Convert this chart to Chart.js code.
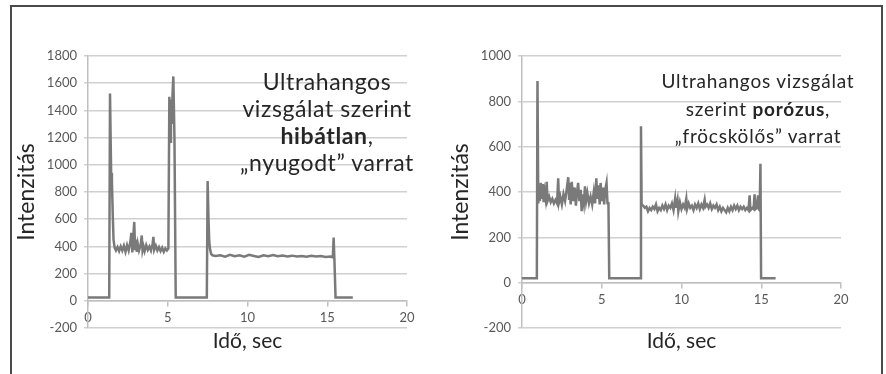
<!DOCTYPE html>
<html>
<head>
<meta charset="utf-8">
<script src="https://cdn.jsdelivr.net/npm/chart.js@4/dist/chart.umd.min.js"></script>
<style>
  html, body { margin: 0; padding: 0; background: #fff; }
  body { width: 886px; height: 374px; position: relative; overflow: hidden; font-family: Lato, sans-serif; }
  .frame { position: absolute; left: 10px; top: 5px; width: 869px; height: 380px;
           border-top: 2px solid #4a4a4a; border-left: 2px solid #4a4a4a; border-right: 2px solid #4a4a4a; }
  .box { position: absolute; top: 8px; width: 430px; height: 352px; }
  .note { position: absolute; text-align: center; color: #262626; white-space: nowrap; }
</style>
</head>
<body>
<div class="frame"></div>
<div class="box" style="left:12px"><canvas id="chart_flawless"></canvas></div>
<div class="box" style="left:446px"><canvas id="chart_porous"></canvas></div>
<div class="note" style="left:217px; top:68px; width:220px; font-size:23px; letter-spacing:0.6px; line-height:27px">Ultrahangos<br>vizsgálat szerint<br><b>hibátlan</b>,<br>„nyugodt” varrat</div>
<div class="note" style="left:650px; top:67px; width:216px; font-size:19px; letter-spacing:0.8px; line-height:27.5px">Ultrahangos vizsgálat<br>szerint <b>porózus</b>,<br>„fröcskölős” varrat</div>
<script>
// time axis (sec) and intensity readings
var leftTime = [0, 1.33, 1.38, 1.45, 1.5, 1.55, 1.6, 1.67, 1.75, 1.85, 1.95, 2.05, 2.15, 2.25, 2.35, 2.45, 2.55, 2.65, 2.72, 2.78,
    2.84, 2.9, 2.95, 3.0, 3.06, 3.12, 3.2, 3.3, 3.37, 3.42, 3.48, 3.55, 3.65, 3.75, 3.85, 3.95, 4.05, 4.1, 4.15, 4.25,
    4.35, 4.45, 4.55, 4.65, 4.75, 4.85, 4.95, 5.04, 5.1, 5.15, 5.2, 5.25, 5.3, 5.35, 5.42, 5.5, 7.45, 7.5, 7.55, 7.6,
    7.65, 7.72, 7.8, 8.0, 8.3, 8.6, 8.9, 9.2, 9.5, 9.8, 10.1, 10.4, 10.7, 11.0, 11.3, 11.6, 11.9, 12.2, 12.5, 12.8,
    13.1, 13.4, 13.7, 14.0, 14.3, 14.6, 14.9, 15.2, 15.35, 15.4, 15.45, 15.52, 16.6];
var leftIntensity = [25, 25, 1525, 940, 880, 640, 450, 390, 370, 395, 365, 400, 370, 405, 360, 410, 370, 430, 500, 355,
    470, 580, 380, 450, 360, 420, 370, 410, 480, 370, 400, 365, 410, 375, 400, 370, 420, 470, 375, 405,
    370, 395, 365, 390, 360, 385, 370, 385, 1500, 1170, 1480, 1300, 1520, 1650, 1200, 25, 25, 880, 620, 440,
    380, 345, 335, 330, 335, 325, 338, 328, 335, 325, 338, 330, 322, 335, 328, 336, 327, 333, 326, 332,
    325, 330, 324, 331, 325, 330, 322, 325, 320, 465, 300, 25, 25];

var rightTime = [0, 0.93, 0.97, 1.02, 1.07, 1.12, 1.18, 1.24, 1.3, 1.36, 1.42, 1.48, 1.55, 1.6, 1.7, 1.8, 1.9, 2.0, 2.1, 2.2,
    2.27, 2.32, 2.4, 2.5, 2.6, 2.7, 2.8, 2.9, 2.95, 3.0, 3.05, 3.12, 3.2, 3.3, 3.38, 3.45, 3.52, 3.6, 3.68, 3.74,
    3.8, 3.88, 3.95, 4.02, 4.1, 4.2, 4.3, 4.4, 4.5, 4.58, 4.66, 4.72, 4.8, 4.87, 4.93, 5.0, 5.08, 5.15, 5.22, 5.3,
    5.36, 5.42, 5.47, 7.42, 7.46, 7.5, 7.6, 7.7, 7.8, 7.9, 8.0, 8.1, 8.2, 8.3, 8.4, 8.5, 8.6, 8.7, 8.8, 8.9,
    9.0, 9.1, 9.2, 9.3, 9.4, 9.5, 9.6, 9.65, 9.75, 9.8, 9.9, 10.0, 10.1, 10.2, 10.3, 10.35, 10.45, 10.55, 10.65, 10.75,
    10.85, 10.95, 11.05, 11.15, 11.25, 11.35, 11.45, 11.5, 11.6, 11.7, 11.8, 11.9, 12.0, 12.1, 12.2, 12.3, 12.4, 12.5, 12.6, 12.7,
    12.8, 12.9, 13.0, 13.1, 13.2, 13.3, 13.4, 13.5, 13.6, 13.7, 13.8, 13.9, 14.0, 14.1, 14.2, 14.27, 14.32, 14.45, 14.52, 14.58,
    14.64, 14.72, 14.8, 14.85, 14.9, 14.95, 14.99, 15.9];
var rightIntensity = [20, 20, 890, 350, 430, 360, 440, 370, 435, 355, 400, 370, 445, 360, 380, 355, 370, 350, 365, 350,
    460, 355, 380, 345, 390, 360, 410, 465, 370, 440, 345, 445, 360, 420, 340, 400, 440, 360, 410, 315,
    390, 350, 425, 360, 395, 350, 380, 345, 400, 350, 460, 370, 430, 345, 440, 360, 420, 345, 410, 440,
    350, 350, 20, 20, 690, 345, 340, 330, 335, 315, 330, 320, 335, 325, 345, 315, 330, 320, 340, 325,
    345, 320, 340, 330, 350, 320, 370, 330, 365, 315, 355, 325, 345, 330, 370, 325, 350, 330, 340, 320,
    345, 330, 350, 325, 345, 330, 365, 335, 345, 330, 350, 325, 340, 330, 345, 320, 335, 315, 330, 320,
    310, 330, 315, 335, 320, 340, 325, 340, 320, 335, 325, 335, 320, 330, 320, 385, 320, 330, 325, 390,
    325, 330, 385, 325, 320, 525, 20, 20];

var timeTicks = [0, 20, 5];       // min, max, step
var leftRange = [-200, 1800, 200];
var rightRange = [-200, 1000, 200];

var xTitle = 'Idő, sec';
var yTitle = 'Intenzitás';

var ProfileWeldChart = function (canvasId, times, values, range) {
    var tickColor = '#595959';
    var axisColor = '#bfbfbf';
    var plain = function (v) { return String(v); };   // no thousands separator
    var points = times.map(function (t, i) { return {x: t, y: values[i]}; });

    return new Chart(document.getElementById(canvasId), {
        type: 'line',
        data: {
            datasets: [{
                data: points,
                borderColor: '#7a7a7a',
                borderWidth: 2.5,
                pointRadius: 0,
                tension: 0,
                fill: false,
                xAxisID: 'x',
                yAxisID: 'y'
            }]
        },
        options: {
            responsive: true,
            maintainAspectRatio: false,
            animation: false,
            parsing: false,
            layout: { padding: { left: 0, right: 35, top: 48, bottom: 0 } },
            plugins: { legend: { display: false }, tooltip: { enabled: false } },
            scales: {
                x: {
                    type: 'linear',
                    position: { y: 0 },
                    min: timeTicks[0], max: timeTicks[1],
                    ticks: { stepSize: timeTicks[2], color: tickColor, padding: 4, callback: plain,
                             font: { family: 'Lato', size: 13 } },
                    grid: { drawOnChartArea: false, drawTicks: true, tickLength: 5, color: axisColor, lineWidth: 1.5 },
                    border: { display: true, color: axisColor, width: 1.5 }
                },
                x2: {
                    type: 'linear',
                    position: 'bottom',
                    min: timeTicks[0], max: timeTicks[1],
                    ticks: { display: false },
                    grid: { display: false },
                    border: { display: false },
                    title: { display: true, text: xTitle, color: '#262626',
                             font: { family: 'Lato', size: 21 }, padding: { top: 0, bottom: 6 } },
                    afterFit: function (scale) { scale.height = 32; }
                },
                y: {
                    type: 'linear',
                    position: 'left',
                    min: range[0], max: range[1],
                    ticks: { stepSize: range[2], color: tickColor, padding: 7, callback: plain,
                             font: { family: 'Lato', size: 13 } },
                    grid: { color: '#d0d0d0', lineWidth: 1.5, tickLength: 4 },
                    border: { display: true, color: axisColor, width: 1.5 },
                    title: { display: true, text: yTitle, color: '#262626',
                             font: { family: 'Lato', size: 23 }, padding: { top: 1, bottom: 2 } },
                    afterFit: function (scale) { scale.width = 76; }
                }
            }
        }
    });
};

ProfileWeldChart('chart_flawless', leftTime, leftIntensity, leftRange);
ProfileWeldChart('chart_porous', rightTime, rightIntensity, rightRange);
</script>
</body>
</html>
